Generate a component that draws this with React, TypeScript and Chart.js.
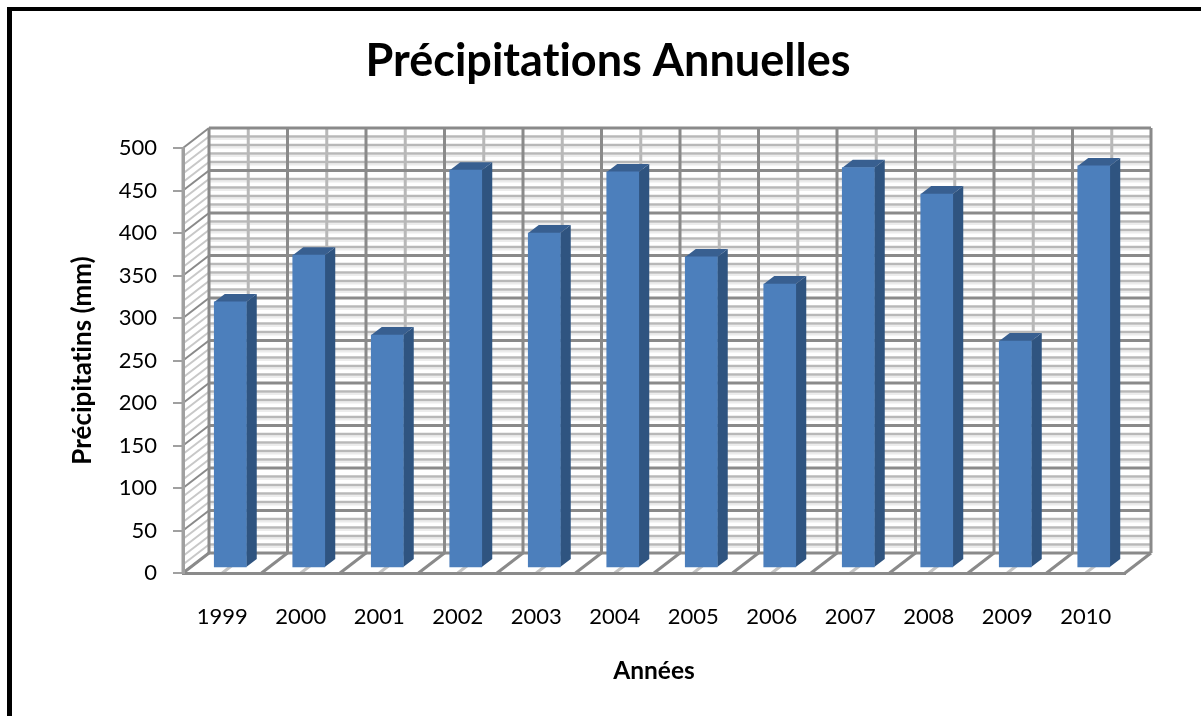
import { useEffect, useRef } from "react";
import { Chart, registerables } from "chart.js";

Chart.register(...registerables);

const years = ["1999","2000","2001","2002","2003","2004","2005","2006","2007","2008","2009","2010"];
const precipitations = [313, 368, 274, 468, 394, 466, 366, 334, 471, 440, 267, 473];
const titleText = "Précipitations Annuelles";
const yTitleText = "Précipitatins (mm)";
const xTitleText = "Années";

const FONT = "Lato, Carlito, Calibri, sans-serif";
const WALL_DX = 26, WALL_DY = -20;
const BAR_DX = 8, BAR_DY = -5;
const DEPTH_DX = 10.5, DEPTH_DY = -8;
const MAJOR = "#8a8a8a", MINOR = "#b8b8b8", SHADOW = "#ececec";

function line(ctx: CanvasRenderingContext2D, x1: number, y1: number, x2: number, y2: number, color: string, w: number) {
  ctx.strokeStyle = color;
  ctx.lineWidth = w;
  ctx.beginPath();
  ctx.moveTo(x1, y1);
  ctx.lineTo(x2, y2);
  ctx.stroke();
}

const wallsPlugin = {
  id: "walls",
  afterLayout(chart: any) {
    // the title is centred on the whole figure rather than on the plot
    if (chart.titleBlock) chart.titleBlock.left += 21;
  },
  beforeDraw(chart: any) {
    const ctx = chart.ctx as CanvasRenderingContext2D;
    (ctx as any).letterSpacing = "0.01px";
    const { left, right, bottom } = chart.chartArea;
    const ys = chart.scales.y;
    ctx.save();
    // outer frame (top and left only)
    ctx.fillStyle = "#000";
    ctx.fillRect(7, 7, chart.width - 7, 4);
    ctx.fillRect(7, 7, 5, chart.height - 7);

    const bl = left + WALL_DX, br = right + WALL_DX;
    // horizontal lines and left wall diagonals, minor first
    for (let v = 0; v <= 500; v += 10) {
      if (v % 50 === 0) continue;
      const y = ys.getPixelForValue(v);
      line(ctx, bl, y + WALL_DY + 2.5, br, y + WALL_DY + 2.5, SHADOW, 2);
      line(ctx, bl, y + WALL_DY, br, y + WALL_DY, MINOR, 2.5);
      line(ctx, left, y, bl, y + WALL_DY, "#c8c8c8", 2);
    }
    const step = (right - left) / years.length;
    for (let i = 0; i < years.length; i++) {
      const x = left + (i + 0.5) * step;
      line(ctx, x + WALL_DX, bottom + WALL_DY, x + WALL_DX, ys.top + WALL_DY, MINOR, 3);
      line(ctx, x, bottom, x + WALL_DX, bottom + WALL_DY, "#c4c4c4", 3);
    }
    for (let v = 0; v <= 500; v += 50) {
      const y = ys.getPixelForValue(v);
      line(ctx, bl, y + WALL_DY, br, y + WALL_DY, MAJOR, 3);
      line(ctx, left, y, bl, y + WALL_DY, MAJOR, 2);
    }
    for (let i = 0; i <= years.length; i++) {
      const x = left + i * step;
      line(ctx, x + WALL_DX, bottom + WALL_DY, x + WALL_DX, ys.top + WALL_DY, MAJOR, 3);
      line(ctx, x, bottom, x + WALL_DX, bottom + WALL_DY, MAJOR, 3);
    }
    line(ctx, left, ys.top, left, bottom, "#a0a0a0", 3);
    ctx.restore();
  },
  beforeDatasetsDraw(chart: any) {
    const ctx = chart.ctx as CanvasRenderingContext2D;
    ctx.save();
    ctx.translate(BAR_DX, BAR_DY);
    for (const bar of chart.getDatasetMeta(0).data) {
      const r = bar.x + bar.width / 2, l = bar.x - bar.width / 2;
      ctx.fillStyle = "#2f5480";
      ctx.beginPath();
      ctx.moveTo(r, bar.y);
      ctx.lineTo(r + DEPTH_DX, bar.y + DEPTH_DY);
      ctx.lineTo(r + DEPTH_DX, bar.base + DEPTH_DY);
      ctx.lineTo(r, bar.base);
      ctx.closePath();
      ctx.fill();
      ctx.fillStyle = "#385f90";
      ctx.beginPath();
      ctx.moveTo(l, bar.y);
      ctx.lineTo(l + DEPTH_DX, bar.y + DEPTH_DY);
      ctx.lineTo(r + DEPTH_DX, bar.y + DEPTH_DY);
      ctx.lineTo(r, bar.y);
      ctx.closePath();
      ctx.fill();
    }
  },
  afterDatasetsDraw(chart: any) {
    chart.ctx.restore();
  },
};

export default function App() {
  const ref = useRef<HTMLCanvasElement>(null);
  useEffect(() => {
    const chart = new Chart(ref.current!, {
      type: "bar",
      data: {
        labels: years,
        datasets: [{
          data: precipitations,
          backgroundColor: "#4c7fbc",
          borderWidth: 0,
          barThickness: 32,
        }],
      },
      plugins: [wallsPlugin],
      options: {
        animation: false,
        responsive: false,
        layout: { padding: { left: 70, right: 76, top: 0, bottom: 30 } },
        plugins: {
          legend: { display: false },
          tooltip: { enabled: false },
          title: {
            display: true,
            text: titleText,
            color: "#000",
            font: { family: FONT, size: 45, weight: "bold", lineHeight: 1.2 },
            padding: { top: 34, bottom: 60 },
          },
        },
        scales: {
          x: {
            afterFit(s: any) { s.height = 113; },
            grid: { display: false },
            border: { display: true, color: MAJOR, width: 3 },
            ticks: { color: "#000", padding: 23, font: { family: FONT, size: 22 }, maxRotation: 0 },
            title: {
              display: true, text: xTitleText, color: "#000", padding: 0,
              font: { family: FONT, size: 24.5, weight: "bold", lineHeight: 1.2 },
            },
          },
          y: {
            min: 0,
            max: 500,
            afterFit(s: any) { s.width = 113; },
            grid: { drawOnChartArea: false, drawTicks: true, tickLength: 10, color: "#a0a0a0", lineWidth: 2 },
            border: { display: true, color: "#a0a0a0", width: 3 },
            ticks: { stepSize: 50, color: "#000", padding: 16, font: { family: FONT, size: 22 } },
            title: {
              display: true, text: yTitleText, color: "#000", padding: 0,
              font: { family: FONT, size: 26, weight: "bold", lineHeight: 1 },
            },
          },
        },
      } as any,
    });
    return () => chart.destroy();
  }, []);
  return (
    <canvas
      ref={ref}
      width={1201}
      height={716}
      style={{ position: "fixed", left: 0, top: 0, display: "block", background: "#fff" }}
    />
  );
}
